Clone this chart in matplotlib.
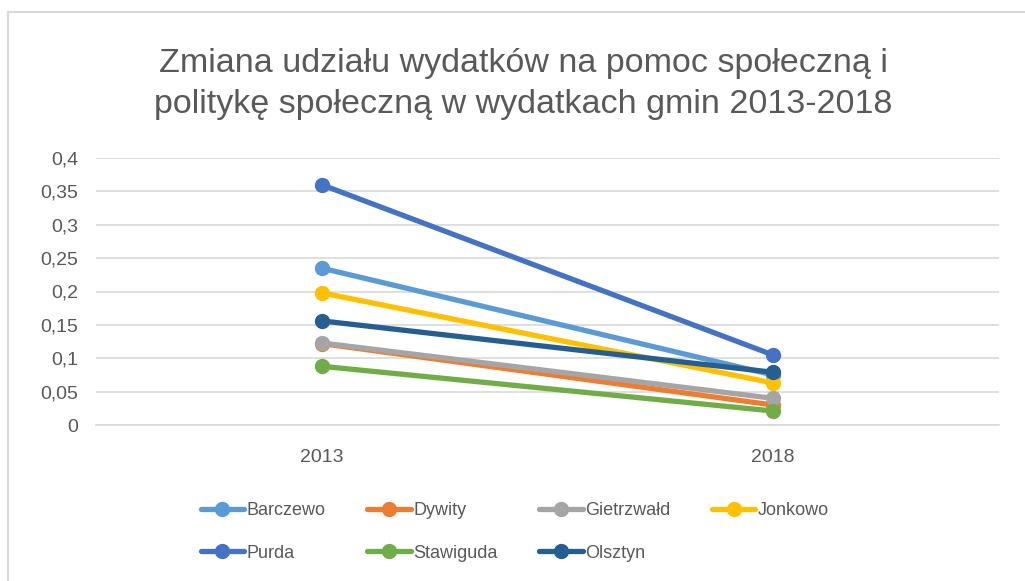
import matplotlib
matplotlib.use("Agg")
import matplotlib.pyplot as plt
from matplotlib.patches import Rectangle

plt.rcParams['font.family'] = ['Liberation Sans', 'DejaVu Sans']

# dane
lata = ["2013", "2018"]
gminy = ["Barczewo", "Dywity", "Gietrzwałd", "Jonkowo", "Purda", "Stawiguda", "Olsztyn"]
barczewo = [0.235, 0.075]
dywity = [0.122, 0.030]
gietrzwald = [0.123, 0.040]
jonkowo = [0.198, 0.063]
purda = [0.360, 0.105]
stawiguda = [0.088, 0.021]
olsztyn = [0.156, 0.079]
serie = [barczewo, dywity, gietrzwald, jonkowo, purda, stawiguda, olsztyn]
kolory = ["#5B9BD5", "#ED7D31", "#A5A5A5", "#FFC000", "#4472C4", "#70AD47", "#255E91"]
y_ticks = [0, 0.05, 0.1, 0.15, 0.2, 0.25, 0.3, 0.35, 0.4]

szary = "#595959"

fig = plt.figure(figsize=(10.25, 5.81), dpi=100)
ax = fig.add_axes([96/1025, 1 - 425/581, (998.5-96)/1025, (425-158)/581])

x = list(range(len(lata)))
linie = []
for s, k, nazwa in zip(serie, kolory, gminy):
    l, = ax.plot(x, s, color=k, lw=3.8, marker="o", ms=10, label=nazwa,
                 solid_capstyle="round", zorder=3)
    linie.append(l)

ax.set_xlim(-0.5, 1.5)
ax.set_ylim(0, 0.4)
ax.set_xticks(x)
ax.set_xticklabels(lata)
ax.set_yticks(y_ticks)
ax.set_yticklabels([f"{v:g}".replace(".", ",") for v in y_ticks])
ax.tick_params(length=0, labelsize=14, colors=szary)
ax.tick_params(axis="x", pad=17)
ax.tick_params(axis="y", pad=13)
ax.grid(axis="y", color="#D9D9D9", lw=1.2)
ax.set_axisbelow(True)
for sp in ["top", "right", "left"]:
    ax.spines[sp].set_visible(False)
ax.spines["bottom"].set_color("#D9D9D9")
ax.spines["bottom"].set_linewidth(1.2)

fig.text(523/1025, 1 - 84/581,
         "Zmiana udziału wydatków na pomoc społeczną i\npolitykę społeczną w wydatkach gmin 2013-2018",
         ha="center", va="center", fontsize=24.5, color=szary, linespacing=1.45)

# kolejnosc jak w Excelu (wierszami)
kol = [0, 4, 1, 5, 2, 6, 3]
fig.legend([linie[i] for i in kol], [gminy[i] for i in kol], ncol=4,
           loc="center", bbox_to_anchor=(515/1025, 1 - 532/581), frameon=False,
           fontsize=13, labelcolor=szary, handlelength=2.4, handletextpad=0.15,
           columnspacing=2.3, labelspacing=1.4)

fig.patches.append(Rectangle((8/1025, -0.1), 1.2, 1 - 12/581 + 0.1,
                             transform=fig.transFigure, fill=False,
                             ec="#D9D9D9", lw=1.5))

fig.savefig("out.png", dpi=100)
